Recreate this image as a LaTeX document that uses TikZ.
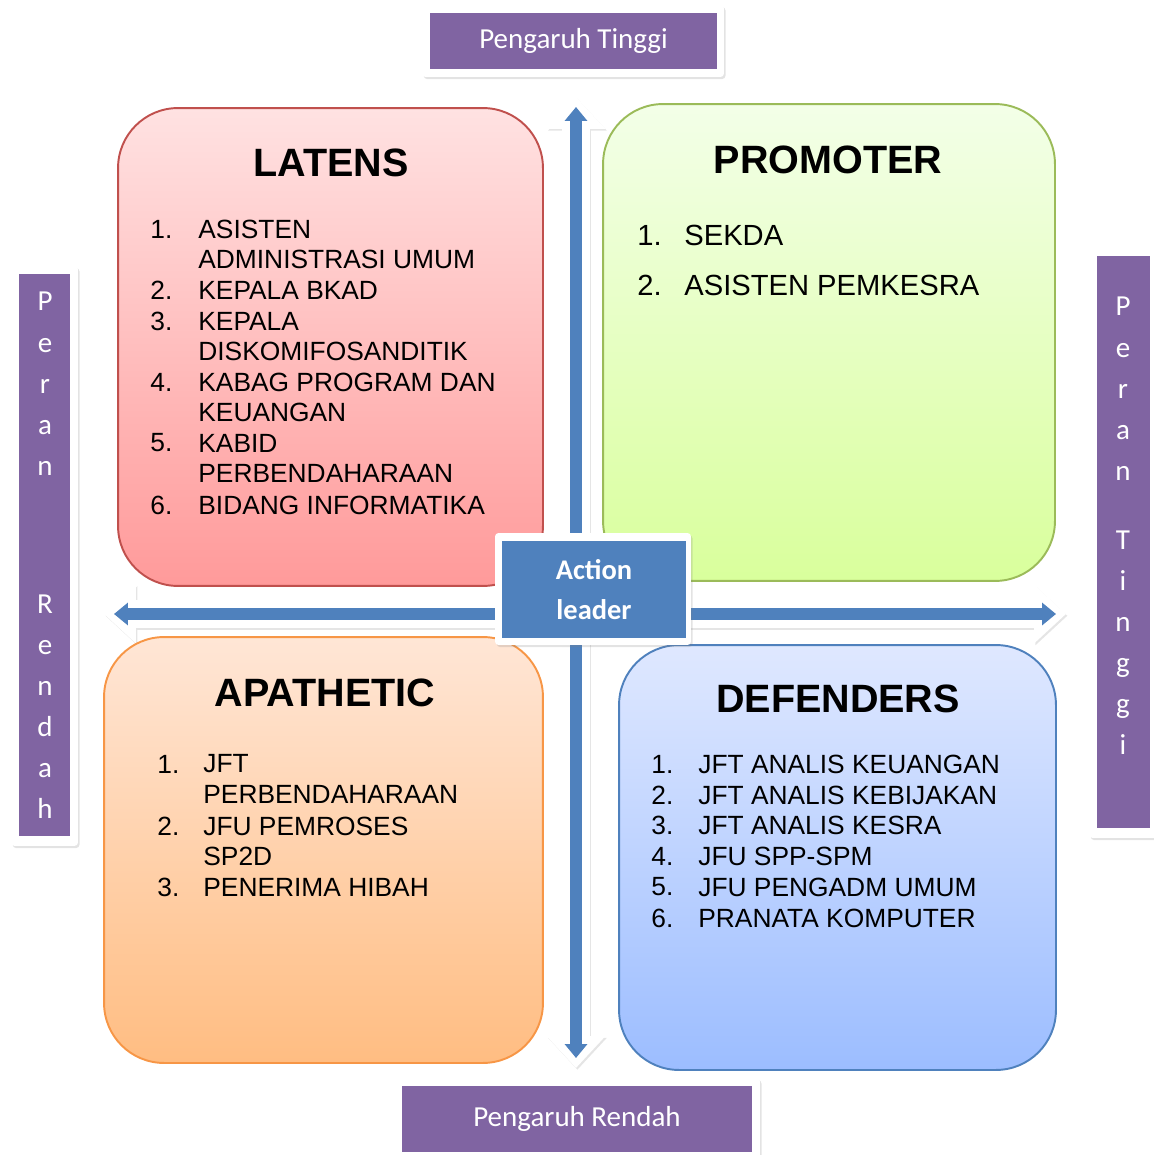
\documentclass[tikz,border=0pt]{standalone}
\usepackage{fontspec}
\setmainfont{Liberation Sans}
\newfontfamily\calib{Carlito}
\usepackage{xcolor}
\usetikzlibrary{arrows.meta,shadows}

\definecolor{redline}{HTML}{C0504D}
\definecolor{redtop}{HTML}{FFE2E2}
\definecolor{redbot}{HTML}{FF9A9A}
\definecolor{greenline}{HTML}{9BBB59}
\definecolor{greentop}{HTML}{F3FFE8}
\definecolor{greenbot}{HTML}{D9FF9C}
\definecolor{orangeline}{HTML}{F79646}
\definecolor{orangetop}{HTML}{FFE6D6}
\definecolor{orangebot}{HTML}{FFBD82}
\definecolor{blueline}{HTML}{4F81BD}
\definecolor{bluetop}{HTML}{DFE8FF}
\definecolor{bluebot}{HTML}{9CBDFF}
\definecolor{leaderblue}{HTML}{4F81BD}
\definecolor{labelpurple}{HTML}{8064A2}

\tikzset{
  quad/.style={rounded corners=1.2cm, line width=1.1pt, inner sep=0pt},
  title/.style={font=\fontsize{22.5}{26}\selectfont\bfseries},
  item/.style={anchor=west, inner sep=0pt, font=\fontsize{15}{18}\selectfont},
  bigitem/.style={item, font=\fontsize{16.6}{20}\selectfont},
  frame/.style={fill=white, rounded corners=2pt, inner sep=0pt,
    drop shadow={shadow xshift=0.9pt, shadow yshift=-1.2pt, opacity=.22}},
  label/.style={fill=labelpurple, text=white, inner sep=0pt,
    font=\calib\fontsize{16.5}{20}\selectfont},
  letter/.style={anchor=base, text=white, inner sep=0pt,
    font=\calib\fontsize{16.5}{20}\selectfont},
  whitearrow/.style={white, line width=0.56cm,
    {Triangle[width=1.14cm,length=0.64cm]}-{Triangle[width=1.14cm,length=0.64cm]}},
  shadowarrow/.style={black!10, line width=0.56cm,
    {Triangle[width=1.14cm,length=0.64cm]}-{Triangle[width=1.14cm,length=0.64cm]},
    transform canvas={xshift=0.8pt,yshift=-1pt}},
  bluearrow/.style={leaderblue, line width=0.24cm,
    {Triangle[width=0.44cm,length=0.28cm]}-{Triangle[width=0.44cm,length=0.28cm]},
    shorten <=0.2cm, shorten >=0.2cm}
}

\begin{document}
\begin{tikzpicture}[x=0.02cm, y=-0.02cm]
  %\draw [dotted] (0,0) grid[step=50] (1153,1155);
  \useasboundingbox (0,0) rectangle (1153,1155);

  \coordinate (vtop) at (576,97);
  \coordinate (vbot) at (576,1068);
  \coordinate (hleft) at (104,614);
  \coordinate (hright) at (1066,614);
  \draw [shadowarrow] (vtop) -- (vbot);
  \draw [shadowarrow] (hleft) -- (hright);
  \draw [whitearrow] (vtop) -- (vbot);
  \draw [whitearrow] (hleft) -- (hright);
  \draw [bluearrow] (vtop) -- (vbot);
  \draw [bluearrow] (hleft) -- (hright);

  \node [quad, draw=redline, top color=redtop, bottom color=redbot,
         minimum width=8.5cm, minimum height=9.56cm] (latens) at (330.5,347) {};
  \node [quad, draw=greenline, top color=greentop, bottom color=greenbot,
         minimum width=9.04cm, minimum height=9.54cm] (promoter) at (829,342.5) {};
  \node [quad, draw=orangeline, top color=orangetop, bottom color=orangebot,
         minimum width=8.78cm, minimum height=8.52cm] (apathetic) at (323.5,850) {};
  \node [quad, draw=blueline, top color=bluetop, bottom color=bluebot,
         minimum width=8.74cm, minimum height=8.5cm] (defenders) at (837.5,857.5) {};

  \node [title] (tlatens) at (331,163) {LATENS};
  \node [title] (tpromoter) at (828,160) {PROMOTER};
  \node [title] (tapathetic) at (325,693) {APATHETIC};
  \node [title] (tdefenders) at (838,699) {DEFENDERS};

  \foreach \y/\n/\t [count=\i] in {229/1./ASISTEN, 259//ADMINISTRASI UMUM,
      290/2./KEPALA BKAD, 321/3./KEPALA, 351//DISKOMIFOSANDITIK,
      382/4./KABAG PROGRAM DAN, 412//KEUANGAN, 443/5./KABID,
      473//PERBENDAHARAAN, 505/6./BIDANG INFORMATIKA} {
    \node [item] (latn\i) at (150,\y) {\n};
    \node [item] (latt\i) at (198,\y) {\t};
  }
  \foreach \y/\n/\t [count=\i] in {235/1./SEKDA, 285/2./ASISTEN PEMKESRA} {
    \node [bigitem] (pron\i) at (637,\y) {\n};
    \node [bigitem] (prot\i) at (684,\y) {\t};
  }
  \foreach \y/\n/\t [count=\i] in {764/1./JFT, 794//PERBENDAHARAAN,
      826/2./JFU PEMROSES, 856//SP2D, 887/3./PENERIMA HIBAH} {
    \node [item] (apan\i) at (157,\y) {\n};
    \node [item] (apat\i) at (203,\y) {\t};
  }
  \foreach \y/\n/\t [count=\i] in {764/1./JFT ANALIS KEUANGAN,
      795/2./JFT ANALIS KEBIJAKAN, 825/3./JFT ANALIS KESRA,
      856/4./JFU SPP-SPM, 887/5./JFU PENGADM UMUM, 918/6./PRANATA KOMPUTER} {
    \node [item] (defn\i) at (651,\y) {\n};
    \node [item] (deft\i) at (698,\y) {\t};
  }

  \node [frame, minimum width=6.04cm, minimum height=1.44cm] (ftinggi) at (573,41) {};
  \node [label, minimum width=5.74cm, minimum height=1.12cm] (ptinggi) at (573.5,41) {Pengaruh Tinggi};
  \node [frame, minimum width=7.3cm, minimum height=1.64cm] (frendah) at (577.5,1119) {};
  \node [label, minimum width=7cm, minimum height=1.32cm] (prendah) at (577,1119) {Pengaruh Rendah};

  \node [frame, minimum width=1.34cm, minimum height=11.6cm] (fperanr) at (44.5,556) {};
  \node [label, minimum width=1.02cm, minimum height=11.24cm] (peranr) at (44.5,555) {};
  \foreach \c/\y [count=\i] in {P/311, e/352, r/393, a/434, n/475,
      R/613, e/654, n/695, d/736, a/777, h/818}
    \node [letter] (lr\i) at (45,\y) {\c};

  \node [frame, minimum width=1.38cm, minimum height=11.8cm] (fperant) at (1123.5,543) {};
  \node [label, minimum width=1.06cm, minimum height=11.44cm] (perant) at (1123.5,542) {};
  \foreach \c/\y [count=\i] in {P/316, e/357, r/398, a/439, n/480,
      T/549, i/590, n/631, g/672, g/713, i/754}
    \node [letter] (lt\i) at (1123,\y) {\c};

  \node [frame, minimum width=3.92cm, minimum height=2.24cm] (faction) at (593,589) {};
  \node [fill=leaderblue, text=white, inner sep=0pt, align=center,
         font=\calib\bfseries\fontsize{16.2}{22.7}\selectfont,
         minimum width=3.68cm, minimum height=1.94cm] (action) at (594,589.5) {Action\\leader};
\end{tikzpicture}
\end{document}
